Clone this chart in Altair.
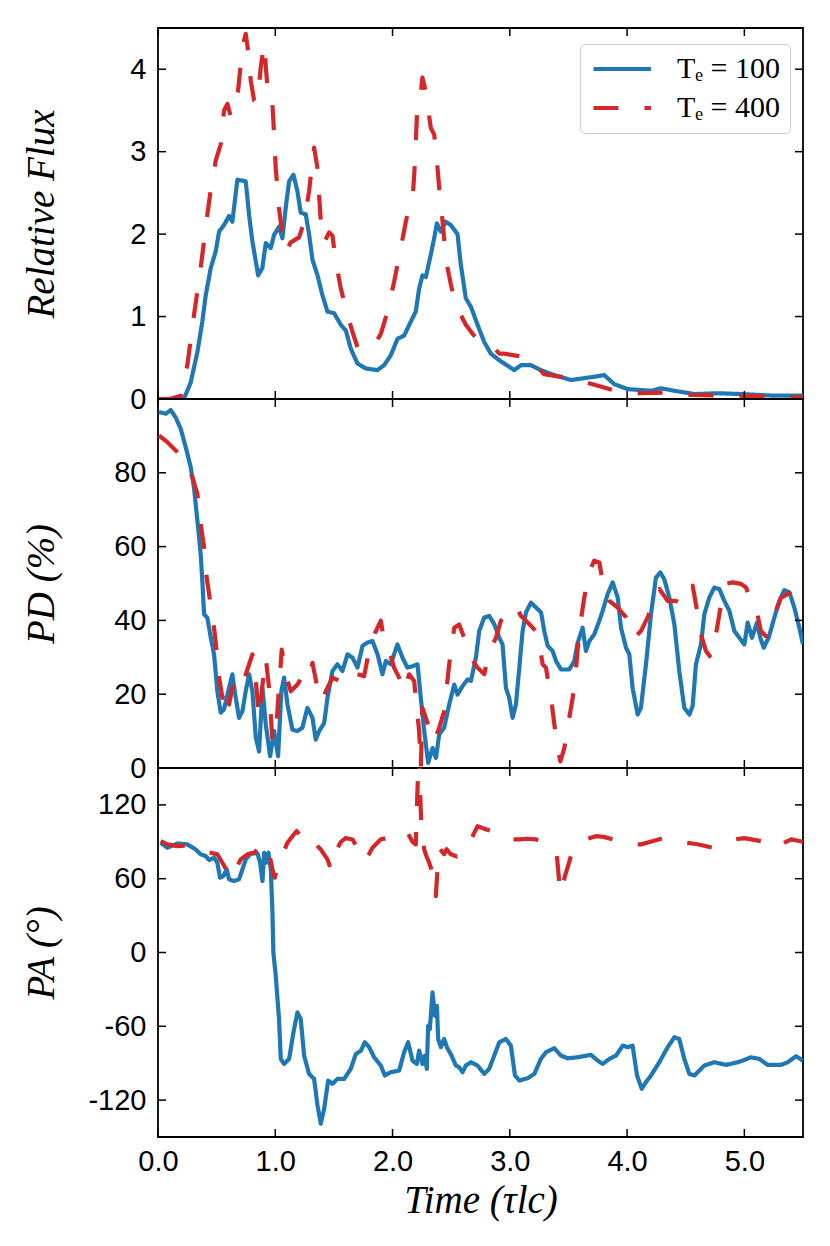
import altair as alt
import pandas as pd

# ---------------- data ----------------
SERIES = ["Tₑ = 100", "Tₑ = 400"]

flux100_t = [0.0, 0.1, 0.22, 0.279, 0.336, 0.378, 0.407, 0.45, 0.492, 0.521, 0.563, 0.606, 0.634,
             0.677, 0.748, 0.777, 0.805, 0.834, 0.854, 0.89, 0.919, 0.961, 0.99, 1.032, 1.061, 1.089,
             1.118, 1.155, 1.189, 1.217, 1.26, 1.288, 1.317, 1.36, 1.402, 1.445, 1.502, 1.559, 1.602,
             1.644, 1.701, 1.772, 1.872, 1.928, 1.985, 2.042, 2.099, 2.156, 2.198, 2.227, 2.255, 2.284,
             2.326, 2.355, 2.378, 2.412, 2.454, 2.497, 2.554, 2.582, 2.625, 2.668, 2.725, 2.782, 2.838,
             2.91, 3.038, 3.095, 3.18, 3.265, 3.379, 3.521, 3.72, 3.805, 3.891, 4.005, 4.204, 4.289,
             4.403, 4.574, 4.773, 4.972, 5.256, 5.5]
flux100_v = [0.0, 0.0, 0.0, 0.2, 0.57, 0.94, 1.26, 1.59, 1.79, 2.03, 2.11, 2.22, 2.15,
             2.66, 2.64, 2.23, 1.91, 1.67, 1.5, 1.59, 1.89, 1.83, 1.99, 2.09, 1.95, 2.32,
             2.64, 2.72, 2.52, 2.26, 2.24, 2.0, 1.69, 1.5, 1.26, 1.06, 1.04, 0.9, 0.83,
             0.61, 0.43, 0.37, 0.35, 0.41, 0.53, 0.73, 0.77, 0.94, 1.06, 1.34, 1.5, 1.48,
             1.75, 1.95, 2.13, 2.03, 2.15, 2.11, 2.0, 1.63, 1.22, 1.12, 0.9, 0.69, 0.55,
             0.47, 0.35, 0.41, 0.41, 0.35, 0.29, 0.23, 0.27, 0.29, 0.18, 0.12, 0.1, 0.13,
             0.1, 0.06, 0.07, 0.06, 0.04, 0.04]

flux400_t = [0.0, 0.1, 0.194, 0.25, 0.307, 0.364, 0.421, 0.45, 0.492, 0.535, 0.563, 0.592, 0.62,
             0.648, 0.683, 0.72, 0.748, 0.768, 0.791, 0.82, 0.848, 0.876, 0.905, 0.933, 0.967, 0.984,
             1.004, 1.032, 1.06, 1.089, 1.132, 1.203, 1.246, 1.288, 1.331, 1.36, 1.388, 1.417, 1.459,
             1.488, 1.516, 1.559, 1.616, 1.659, 1.701, 1.786, 1.843, 1.9, 1.957, 2.013, 2.07, 2.113,
             2.141, 2.17, 2.192, 2.212, 2.24, 2.255, 2.284, 2.326, 2.355, 2.378, 2.398, 2.427, 2.44,
             2.469, 2.497, 2.526, 2.582, 2.625, 2.682, 2.753, 2.838, 2.91, 2.952, 3.038, 3.165, 3.293,
             3.521, 3.706, 3.948, 4.119, 4.375, 4.546, 4.83, 5.256, 5.5]
flux400_v = [0.0, 0.0, 0.04, 0.41, 1.02, 1.59, 2.24, 2.54, 2.89, 3.09, 3.5, 3.58, 3.43,
             3.58, 3.74, 4.27, 4.43, 4.23, 3.86, 3.62, 3.6, 4.02, 4.31, 3.78, 3.78, 3.37,
             2.8, 2.32, 1.99, 1.79, 1.9, 1.96, 2.15, 2.52, 3.05, 2.8, 2.15, 1.9, 2.02,
             1.98, 1.67, 1.34, 1.02, 0.81, 0.63, 0.59, 0.65, 0.79, 1.06, 1.42, 1.83, 2.15,
             2.32, 2.4, 2.89, 3.58, 3.7, 3.9, 3.72, 3.29, 3.21, 2.89, 2.56, 2.15, 1.95,
             1.59, 1.39, 1.22, 1.02, 0.9, 0.79, 0.69, 0.66, 0.55, 0.55, 0.53, 0.5, 0.3,
             0.25, 0.18, 0.08, 0.07, 0.08, 0.05, 0.04, 0.03, 0.02]

pd100_t = [0.009, 0.066, 0.108, 0.151, 0.194, 0.236, 0.279, 0.307, 0.336, 0.364, 0.378, 0.393, 0.421,
           0.45, 0.478, 0.506, 0.535, 0.563, 0.592, 0.634, 0.663, 0.691, 0.72, 0.748, 0.777, 0.805,
           0.834, 0.862, 0.891, 0.919, 0.956, 0.99, 1.024, 1.052, 1.075, 1.104, 1.146, 1.189, 1.231,
           1.274, 1.317, 1.345, 1.374, 1.417, 1.445, 1.488, 1.53, 1.573, 1.616, 1.659, 1.701, 1.744,
           1.786, 1.829, 1.872, 1.914, 1.943, 1.985, 2.042, 2.085, 2.127, 2.17, 2.213, 2.241, 2.27,
           2.304, 2.341, 2.37, 2.398, 2.44, 2.483, 2.526, 2.554, 2.597, 2.64, 2.668, 2.711, 2.739,
           2.782, 2.825, 2.867, 2.91, 2.938, 2.967, 2.995, 3.024, 3.052, 3.081, 3.109, 3.138, 3.18,
           3.223, 3.266, 3.294, 3.323, 3.365, 3.394, 3.436, 3.507, 3.55, 3.578, 3.621, 3.649, 3.678,
           3.72, 3.763, 3.792, 3.834, 3.877, 3.92, 3.948, 3.991, 4.019, 4.047, 4.09, 4.118, 4.161,
           4.204, 4.246, 4.283, 4.317, 4.36, 4.403, 4.445, 4.488, 4.531, 4.559, 4.587, 4.63, 4.659,
           4.701, 4.744, 4.787, 4.829, 4.872, 4.915, 4.957, 5.0, 5.028, 5.065, 5.108, 5.136, 5.165,
           5.207, 5.256, 5.298, 5.341, 5.384, 5.426, 5.469, 5.5]
pd100_v = [96.5, 96, 97, 95, 91.9, 87, 81.5, 76, 67, 58, 50.7, 41.7, 40.7,
           35.3, 30.8, 20.8, 15, 15.9, 19.9, 25.4, 19, 13.6, 15.4, 20.8, 25.4, 20.8,
           8.2, 4.5, 21.7, 11.8, 3.2, 10, 3.2, 20.8, 24.5, 17.2, 10.4, 10, 10.9,
           16.3, 13.6, 7.7, 10, 12.2, 19, 26.3, 28.1, 26.3, 30.8, 29.9, 27.2, 33.1,
           34, 34.4, 30.8, 25.4, 29, 28.1, 33.5, 29.9, 27.2, 27.6, 28.1, 19, 10,
           1.4, 5.4, 2.7, 9.1, 10.9, 17.2, 22.6, 19.9, 22.2, 24, 23.6, 29.9, 37.1,
           40.8, 41.2, 39, 35.3, 33.5, 21.7, 19, 13.6, 17.2, 27.2, 37.1, 42.2, 44.8,
           43.5, 42.2, 37.1, 33.1, 31.7, 29, 26.7, 26.7, 29, 33.9, 38, 31.7, 34.4,
           36.2, 39.9, 42.6, 47.1, 50.3, 46.2, 38, 32.6, 30.8, 21.7, 14.5, 16.3, 28.1,
           41.7, 51.6, 53, 51.2, 46.2, 39, 26.3, 16.3, 14.5, 16.8, 28.1, 33.5, 41.7,
           46.2, 48.9, 48.5, 45.3, 42.6, 37.1, 35.3, 33.5, 39.4, 35.3, 39.4, 35.3, 32.6,
           35.3, 40.8, 45.3, 48.2, 47.6, 43.5, 38, 33.5]

pd400_t = [0.009, 0.08, 0.165, 0.236, 0.293, 0.336, 0.364, 0.393, 0.415, 0.444, 0.478, 0.5, 0.521,
           0.549, 0.578, 0.606, 0.634, 0.677, 0.72, 0.762, 0.805, 0.834, 0.862, 0.891, 0.919, 0.947,
           0.976, 1.004, 1.032, 1.055, 1.089, 1.132, 1.189, 1.231, 1.274, 1.317, 1.36, 1.394, 1.431,
           1.488, 1.545, 1.602, 1.644, 1.701, 1.758, 1.815, 1.858, 1.9, 1.928, 1.971, 2.013, 2.056,
           2.099, 2.141, 2.184, 2.212, 2.227, 2.241, 2.255, 2.284, 2.312, 2.355, 2.398, 2.44, 2.483,
           2.526, 2.568, 2.611, 2.668, 2.725, 2.782, 2.825, 2.882, 2.924, 2.967, 3.052, 3.095, 3.138,
           3.223, 3.252, 3.28, 3.308, 3.351, 3.38, 3.408, 3.431, 3.465, 3.507, 3.536, 3.564, 3.592,
           3.635, 3.678, 3.72, 3.763, 3.8, 3.848, 3.92, 3.991, 4.033, 4.061, 4.118, 4.175, 4.218,
           4.275, 4.346, 4.417, 4.474, 4.517, 4.559, 4.602, 4.63, 4.673, 4.715, 4.758, 4.801, 4.843,
           4.9, 4.971, 5.014, 5.056, 5.099, 5.141, 5.184, 5.227, 5.27, 5.313, 5.37, 5.426, 5.469, 5.5]
pd400_v = [90.1, 88.3, 85.6, 82.8, 78.8, 74.3, 66.1, 59.8, 51.6, 45.3, 38, 31.7, 24.5,
           19, 22.6, 17.2, 21.7, 24.5, 22.6, 26.7, 30.8, 23.6, 13.6, 22.6, 29.9, 21.7,
           7.2, 9.1, 21.7, 32.1, 25.4, 20.8, 22.6, 24.9, 23.6, 28.5, 21.7, 18.1, 20.8,
           24.5, 23.6, 25.4, 24, 25.4, 24.9, 34.4, 37.1, 39.9, 34.4, 31.7, 27.2, 24.5,
           20.8, 25.4, 23.6, 14.5, 10, 0, 16.3, 13.6, 10.9, 7.2, 10.9, 15.4, 28.1,
           38, 38.9, 35.3, 29.9, 27.2, 25.4, 31.7, 35.3, 39.9, 41.2, 44, 41.2, 39.9,
           37.1, 33.5, 28.1, 27.2, 19, 11.8, 5.4, 1.8, 5.4, 13.6, 19, 26.7, 37.1,
           46.2, 53.3, 56.2, 55.7, 48.9, 45.3, 43.5, 40.8, 37.1, 35.3, 37.1, 40.8, 44.4,
           48.5, 45.3, 45.3, 44.4, 48.5, 49.4, 41.7, 36.2, 31.7, 29.9, 36.2, 44.4, 49.9,
           50.3, 49.9, 48.9, 45.3, 43.5, 37.1, 35.7, 38.9, 42.6, 46.2, 47.1, 48.9, 50.7, 51.6]

pa100_t = [0.023, 0.08, 0.165, 0.25, 0.321, 0.364, 0.407, 0.435, 0.478, 0.506, 0.529, 0.558, 0.586,
           0.606, 0.648, 0.691, 0.72, 0.748, 0.791, 0.848, 0.871, 0.891, 0.905, 0.925, 0.942, 0.962,
           0.976, 0.984, 1.004, 1.032, 1.047, 1.075, 1.118, 1.155, 1.189, 1.217, 1.246, 1.288, 1.331,
           1.36, 1.388, 1.417, 1.451, 1.488, 1.531, 1.588, 1.644, 1.687, 1.73, 1.764, 1.801, 1.843,
           1.9, 1.934, 1.985, 2.056, 2.099, 2.133, 2.17, 2.207, 2.227, 2.255, 2.275, 2.292, 2.304,
           2.318, 2.341, 2.361, 2.378, 2.389, 2.412, 2.44, 2.463, 2.503, 2.54, 2.568, 2.597, 2.625,
           2.668, 2.725, 2.782, 2.824, 2.867, 2.91, 2.967, 3.009, 3.044, 3.081, 3.152, 3.209, 3.265,
           3.308, 3.379, 3.436, 3.493, 3.578, 3.692, 3.749, 3.792, 3.849, 3.906, 3.963, 4.005, 4.047,
           4.085, 4.125, 4.161, 4.204, 4.275, 4.346, 4.403, 4.445, 4.488, 4.531, 4.574, 4.602, 4.659,
           4.744, 4.843, 4.943, 4.985, 5.056, 5.127, 5.199, 5.313, 5.37, 5.441, 5.5]
pa100_v = [89.2, 85.2, 88.6, 87.9, 83.8, 79.8, 78.4, 75.2, 77, 73, 60.8, 62.2, 67.6,
           59.5, 58.1, 59.5, 67.6, 75.7, 80.6, 80.6, 73, 58.1, 81.1, 73, 81.1, 67.6,
           32.4, 0, -18.9, -54.1, -86.5, -90.6, -86.5, -64.9, -48.7, -54.1, -83.8, -98.7, -102.7,
           -124.3, -139.2, -127, -104.1, -106.8, -102.7, -102.7, -94.6, -82.5, -79.8, -73, -77, -85.2,
           -91.9, -100, -97.3, -96, -81.1, -73, -87.9, -90.6, -79.8, -90.6, -83.8, -94.6, -59.5,
           -62.2, -32.4, -51.4, -43.3, -70.3, -77, -70.3, -77, -83.8, -91.9, -93.2, -97.3, -91.9,
           -89.2, -91.9, -98.7, -94.6, -83.8, -73, -70.3, -75.7, -100, -104.1, -102.2, -98.7, -86.5,
           -81.1, -77.8, -83.8, -86, -85.2, -83.2, -87.9, -90.6, -86.5, -83.8, -75.7, -77, -75.7,
           -100, -110.8, -105.4, -100, -89.2, -77, -68.9, -70.3, -86.5, -98.7, -100, -97.3, -91.9,
           -89.2, -91.4, -89.2, -87.9, -85.2, -86.5, -91.4, -91.4, -89.2, -84.3, -87.9]

pa400_t = [0.023, 0.08, 0.165, 0.25, 0.364, 0.449, 0.506, 0.549, 0.606, 0.648, 0.677, 0.706, 0.762,
           0.819, 0.876, 0.928, 0.947, 0.976, 0.996, 1.018, 1.047, 1.104, 1.146, 1.183, 1.217, 1.26,
           1.302, 1.345, 1.388, 1.445, 1.474, 1.516, 1.56, 1.6, 1.659, 1.7, 1.758, 1.8, 1.829,
           1.9, 1.957, 2.0, 2.07, 2.13, 2.17, 2.198, 2.212, 2.225, 2.235, 2.245, 2.27, 2.29,
           2.312, 2.34, 2.355, 2.369, 2.385, 2.398, 2.44, 2.46, 2.497, 2.55, 2.6, 2.64, 2.69,
           2.725, 2.8, 2.895, 2.95, 3.0, 3.081, 3.15, 3.22, 3.294, 3.36, 3.4, 3.43, 3.47,
           3.52, 3.564, 3.65, 3.735, 3.8, 3.934, 4.0, 4.119, 4.2, 4.318, 4.4, 4.503, 4.6,
           4.73, 4.8, 4.915, 5.0, 5.142, 5.2, 5.25, 5.313, 5.4, 5.5]
pa400_v = [90.5, 87.9, 86.5, 87, 82.5, 81.1, 79.8, 73, 63.5, 60.8, 70.3, 75.7, 79.8,
           81.1, 86.5, 87.9, 81.1, 67.6, 60.8, 70.3, 77, 89.2, 94.6, 98.7, 94.6, 97.3,
           93.2, 87.9, 83.8, 75.7, 67.6, 82.5, 90, 93, 91.9, 85, 74.3, 80, 85.2,
           92, 93.2, 95, 93.2, 97, 90, 87.9, 130, 165, 130, 105, 83.8, 78,
           73, 65, 60.8, 45.9, 70, 85, 80, 84, 79.8, 78, 80, 85.2, 96,
           102.7, 100, 97.3, 93, 92, 91.9, 92.5, 92, 90.5, 84, 80, 48, 62,
           78, 86.5, 92, 94.6, 94, 90.5, 88, 87.9, 90, 93.2, 91, 89.2, 88,
           85.2, 88, 91.9, 93, 90.5, 87, 85, 87.9, 92, 90]

x_ticks = [0, 1, 2, 3, 4, 5]
flux_ticks = [0, 1, 2, 3, 4]
pd_ticks = [0, 20, 40, 60, 80]
pa_ticks = [-120, -60, 0, 60, 120]

# ---------------- styling ----------------
BLUE = "#1f77b4"
RED = "#d62728"
W = 645
SANS = "Liberation Sans"
SERIF = "Liberation Serif"


def frame(t100, v100, t400, v400):
    a = pd.DataFrame({"t": t100, "v": v100, "s": SERIES[0]})
    b = pd.DataFrame({"t": t400, "v": v400, "s": SERIES[1]})
    return pd.concat([a, b], ignore_index=True)


x_scale = alt.Scale(domain=[0, 5.5], nice=False, zero=False)
color_scale = alt.Scale(domain=SERIES, range=[BLUE, RED])
dash_scale = alt.Scale(domain=SERIES, range=[[1, 0], [25, 26]])

label_expr = "datum.value < 0 ? '-' + abs(datum.value) : '' + datum.value"

# long, thin legend line: path spans -1..4 in symbol units (sqrt(size)=23 px per 2 units)
legend = alt.Legend(
    orient="none", legendX=422, legendY=16, title=None,
    symbolType="M-1,0H4", symbolSize=529, symbolStrokeWidth=4,
    labelFontSize=30, labelFont=SERIF, labelColor="black", labelOffset=57,
    padding=10, rowPadding=9, fillColor="rgba(255,255,255,0.85)",
    strokeColor="#cccccc", cornerRadius=5, labelLimit=300,
)


def panel(df, ydomain, yticks, ytitle, height, show_x, with_legend):
    yscale = alt.Scale(domain=ydomain, nice=False, zero=False)
    yaxis = alt.Axis(
        values=yticks, title=ytitle, ticks=False, domain=False, grid=False,
        labelPadding=12, labelFontSize=29, labelFont=SANS, labelColor="black",
        labelExpr=label_expr, labelOverlap=False, labelFlush=False,
        titleFontSize=39, titleFont=SERIF, titleFontStyle="italic",
        titleFontWeight="normal", titleColor="black", titleX=-117,
        titleBaseline="middle", titleAngle=-90,
    )
    if show_x:
        xaxis = alt.Axis(
            values=x_ticks, format=".1f", title="Time (τlc)", ticks=False,
            domain=False, grid=False, labelPadding=10, labelFontSize=29,
            labelFont=SANS, labelColor="black", labelOverlap=False,
            labelFlush=False, titleFontSize=39, titleFont=SERIF,
            titleFontStyle="italic", titleFontWeight="normal",
            titleColor="black", titleY=75, titleBaseline="alphabetic",
        )
    else:
        xaxis = None

    leg = legend if with_legend else None
    lines = alt.Chart(df).mark_line(
        clip=True, strokeWidth=4.2, strokeCap="butt", strokeJoin="round"
    ).encode(
        x=alt.X("t:Q", scale=x_scale, axis=xaxis),
        y=alt.Y("v:Q", scale=yscale, axis=yaxis),
        color=alt.Color("s:N", scale=color_scale, legend=leg),
        strokeDash=alt.StrokeDash("s:N", scale=dash_scale, legend=leg),
    )

    ydf = pd.DataFrame({"v": yticks})
    xdf = pd.DataFrame({"t": x_ticks})
    tick = dict(color="black", strokeWidth=1.5)
    left = alt.Chart(ydf).mark_rule(**tick).encode(
        y=alt.Y("v:Q", scale=yscale, axis=yaxis), x=alt.value(0), x2=alt.value(8))
    right = alt.Chart(ydf).mark_rule(**tick).encode(
        y=alt.Y("v:Q", scale=yscale, axis=yaxis), x=alt.value(W - 8), x2=alt.value(W))
    bottom = alt.Chart(xdf).mark_rule(**tick).encode(
        x=alt.X("t:Q", scale=x_scale, axis=xaxis), y=alt.value(height - 8), y2=alt.value(height))
    top = alt.Chart(xdf).mark_rule(**tick).encode(
        x=alt.X("t:Q", scale=x_scale, axis=xaxis), y=alt.value(0), y2=alt.value(8))

    return alt.layer(lines, left, right, bottom, top).properties(width=W, height=height)


p1 = panel(frame(flux100_t, flux100_v, flux400_t, flux400_v), [0, 4.5], flux_ticks,
           "Relative Flux", 371, False, True)
p2 = panel(frame(pd100_t, pd100_v, pd400_t, pd400_v), [0, 100], pd_ticks,
           "PD (%)", 369, False, False)
p3 = panel(frame(pa100_t, pa100_v, pa400_t, pa400_v), [-150, 150], pa_ticks,
           "PA (°)", 369, True, False)

chart = alt.vconcat(p1, p2, p3, spacing=0, bounds="flush").resolve_scale(
    color="independent", strokeDash="independent"
).configure_view(
    stroke="black", strokeWidth=1.8
).properties(
    padding={"left": 13, "top": 18, "right": 10, "bottom": 10},
    background="white",
)

chart.save("out.html", embed_options={"renderer": "svg", "actions": False})
